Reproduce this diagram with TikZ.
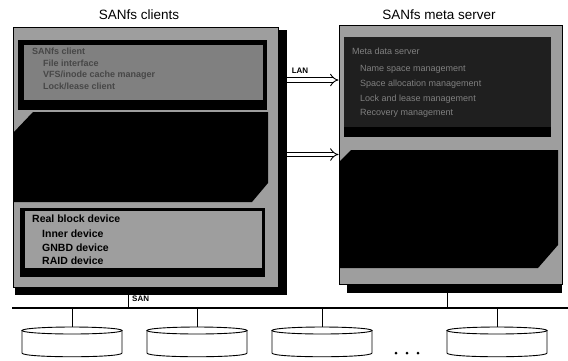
\documentclass[tikz,border=0pt]{standalone}
\usepackage{fontspec}
\setmainfont{Liberation Sans}
\usetikzlibrary{arrows.meta,calc}
\definecolor{panelgray}{gray}{0.62}
\definecolor{boxgray}{gray}{0.5}
\definecolor{lightbox}{gray}{0.62}
\definecolor{darkbox}{gray}{0.12}
\begin{document}
\begin{tikzpicture}[x=1pt,y=-1pt,
  title/.style={font=\fontsize{13.5}{16}\selectfont, inner sep=0pt},
  panel/.style={fill=panelgray, draw=black, line width=1pt, inner sep=0pt},
  shadowbox/.style={fill=black},
  lbl/.style={font=\bfseries\fontsize{8}{9}\selectfont, inner sep=0pt},
  boxtext/.style={font=\bfseries\fontsize{10.5}{12}\selectfont, inner sep=0pt, anchor=base west},
  dimline/.style={font=\bfseries\fontsize{9}{11}\selectfont, inner sep=0pt, anchor=base west, text=black!72},
  srvline/.style={font=\fontsize{9}{11}\selectfont, inner sep=0pt, anchor=base west, text=black!50},
  dblarrow/.style={double=white, double distance=3.5pt, line width=0.9pt, -{Implies}},
  bus/.style={line width=1.3pt},
  stem/.style={line width=0.9pt},
  disk/.style={fill=white, draw=black, line width=0.9pt},
]
\useasboundingbox (0,0) rectangle (568,360);
\fill[white] (0,0) rectangle (568,360);

% titles
\node[title] (tclients) at (139,15) {SANfs clients};
\node[title] (tserver) at (439,15) {SANfs meta server};

% ---- clients panel
\fill[shadowbox] (15,30) rectangle (287,295);
\node[panel, minimum width=265pt, minimum height=260pt] (clients) at (145.5,157) {};
% top inner box
\fill[black] (18,40) rectangle (267,110);
\fill[boxgray] (24,45) rectangle (263,100);
\node[dimline] (c1) at (32,54) {SANfs client};
\node[dimline] (c2) at (43,66) {File interface};
\node[dimline] (c3) at (43,77) {VFS/inode cache manager};
\node[dimline] (c4) at (43,89) {Lock/lease client};
% middle black box
\fill[black] (33,112) -- (268,112) -- (268,183) -- (252,202) -- (13,202) -- (13,133) -- cycle;
% bottom inner box
\fill[black] (20,208) rectangle (265,277);
\fill[lightbox] (25,211) rectangle (262,268);
\node[boxtext] (b1) at (32,222) {Real block device};
\node[boxtext] (b2) at (42,237) {Inner device};
\node[boxtext] (b3) at (42,251) {GNBD device};
\node[boxtext] (b4) at (42,264) {RAID device};

% ---- server panel
\fill[shadowbox] (347,35) rectangle (562,293);
\node[panel, minimum width=223pt, minimum height=259pt] (server) at (450.5,154.5) {};
\fill[darkbox] (344,37) rectangle (551,127);
\fill[black] (344,127) rectangle (551,137);
\node[srvline] (s1) at (352,54) {Meta data server};
\node[srvline] (s2) at (360,71) {Name space management};
\node[srvline] (s3) at (360,86) {Space allocation management};
\node[srvline] (s4) at (360,101) {Lock and lease management};
\node[srvline] (s5) at (360,115) {Recovery management};
\fill[black] (351,150) -- (558,150) -- (558,245) -- (538,268) -- (339,268) -- (339,162) -- cycle;

% ---- arrows
\coordinate (lanA) at (287,80);
\draw[dblarrow] (lanA) -- (server.west |- lanA);
\node[lbl] (lan) at (300,71) {LAN};
\coordinate (ioA) at (287,154.5);
\draw[dblarrow] (ioA) -- (server.west |- ioA);

% ---- SAN bus
\coordinate (busL) at (12,308);
\coordinate (busR) at (568,308);
\draw[bus] (busL) -- (busR);
\coordinate (cdrop) at (128,295);
\draw[stem] (cdrop) -- (cdrop |- busL);
\node[lbl, anchor=west] (san) at (132,299) {SAN};
\coordinate (sdrop) at (447,293);
\draw[stem] (sdrop) -- (sdrop |- busL);

% ---- disks
\foreach \i/\x in {1/22,2/147,3/272,4/447} {
  \draw[disk] (\x,330.5) -- (\x,353) .. controls (\x,358) and (\x+100,358) .. (\x+100,353) -- (\x+100,330.5);
  \draw[disk] (\x+50,330.5) ellipse [x radius=50, y radius=3.5];
  \coordinate (disk\i) at (\x+50,327);
  \draw[stem] (disk\i |- busL) -- (disk\i);
}
\foreach \d in {396,407,418} {
  \fill (\d,353) circle[radius=1.5pt];
}
\end{tikzpicture}
\end{document}
